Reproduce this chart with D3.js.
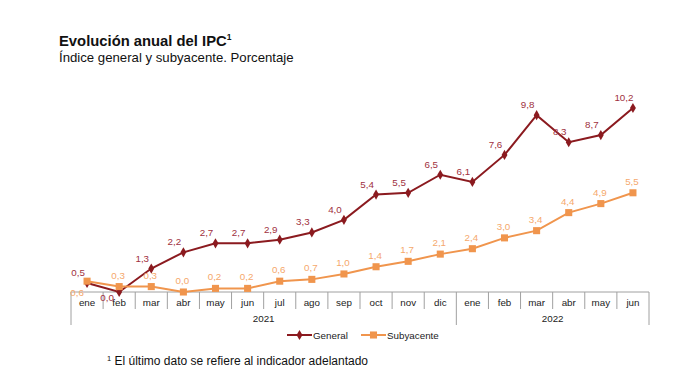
<!DOCTYPE html>
<html>
<head>
<meta charset="utf-8">
<script src="https://d3js.org/d3.v7.min.js"></script>
<style>
  body { margin: 0; background: #fff; }
  svg { font-family: "Liberation Sans", Arial, sans-serif; }
</style>
</head>
<body>
<svg width="699" height="376"></svg>
<script>
const months = ["ene","feb","mar","abr","may","jun","jul","ago","sep","oct","nov","dic",
                "ene","feb","mar","abr","may","jun"];
const years = ["2021","2021","2021","2021","2021","2021","2021","2021","2021","2021","2021","2021",
               "2022","2022","2022","2022","2022","2022"];
const general = [0.5,0.0,1.3,2.2,2.7,2.7,2.9,3.3,4.0,5.4,5.5,6.5,6.1,7.6,9.8,8.3,8.7,10.2];
const subyacente = [0.6,0.3,0.3,0.0,0.2,0.2,0.6,0.7,1.0,1.4,1.7,2.1,2.4,3.0,3.4,4.4,4.9,5.5];

const cGeneral = "#8b1a1f", cGenLabel = "#a03040";
const cSub = "#f0954d", cSubLabel = "#f5a86c";
const axisGrey = "#a0a0a0";

const svg = d3.select("svg");
const fmt = v => v.toFixed(1).replace(".", ",");

const x = d3.scaleBand().domain(d3.range(months.length)).range([71, 649]).padding(0);
const y = d3.scaleLinear().domain([0, 12]).range([292, 292 - 12 * 18.04]);
const cx = i => x(i) + x.bandwidth() / 2;

// title
const title = svg.append("text").attr("x", 59).attr("y", 46)
  .style("font-size", "14.8px").style("font-weight", "bold").attr("fill", "#111");
title.append("tspan").text("Evolución anual del IPC");
title.append("tspan").attr("dy", -6).style("font-size", "8.5px").text("1");
svg.append("text").attr("x", 59).attr("y", 62).style("font-size", "13.2px").attr("fill", "#111")
  .text("Índice general y subyacente. Porcentaje");

// axis
const ax = svg.append("g");
ax.append("line").attr("x1", x.range()[0]).attr("x2", x.range()[1])
  .attr("y1", y(0)).attr("y2", y(0)).attr("stroke", axisGrey);
months.forEach((m, i) => {
  const newYear = i === 0 || years[i] !== years[i - 1];
  ax.append("line").attr("x1", x(i)).attr("x2", x(i)).attr("y1", y(0))
    .attr("y2", newYear ? 325 : 309).attr("stroke", axisGrey);
  ax.append("text").attr("x", cx(i)).attr("y", 306).attr("text-anchor", "middle")
    .style("font-size", "9.8px").attr("fill", "#222").text(m);
});
ax.append("line").attr("x1", x.range()[1]).attr("x2", x.range()[1])
  .attr("y1", y(0)).attr("y2", 325).attr("stroke", axisGrey);
Array.from(new Set(years)).forEach(yr => {
  const idx = years.map((v, i) => v === yr ? i : -1).filter(i => i >= 0);
  const mid = (x(idx[0]) + x(idx[idx.length - 1]) + x.bandwidth()) / 2;
  ax.append("text").attr("x", mid).attr("y", 322).attr("text-anchor", "middle")
    .style("font-size", "9.8px").attr("fill", "#222").text(yr);
});

const line = d3.line().x((d, i) => cx(i)).y(d => y(d));
const diamond = d3.symbol().type(d3.symbolDiamond).size(30);
const square = d3.symbol().type(d3.symbolSquare).size(50);

// general
svg.append("path").datum(general).attr("d", line).attr("fill", "none")
  .attr("stroke", cGeneral).attr("stroke-width", 2);
svg.selectAll(".mg").data(general).join("path").attr("class", "mg")
  .attr("d", diamond).attr("fill", cGeneral)
  .attr("transform", (d, i) => `translate(${cx(i)},${y(d)})`);
svg.selectAll(".lg").data(general).join("text").attr("class", "lg")
  .attr("x", (d, i) => cx(i) - (d === 0 ? 12 : 9))
  .attr("y", d => d === 0 ? y(d) + 9 : y(d) - 7)
  .attr("text-anchor", "middle").style("font-size", "9.8px").attr("fill", cGenLabel)
  .text(fmt);

// subyacente
svg.append("path").datum(subyacente).attr("d", line).attr("fill", "none")
  .attr("stroke", cSub).attr("stroke-width", 2);
svg.selectAll(".ms").data(subyacente).join("path").attr("class", "ms")
  .attr("d", square).attr("fill", cSub)
  .attr("transform", (d, i) => `translate(${cx(i)},${y(d)})`);
svg.selectAll(".ls").data(subyacente).join("text").attr("class", "ls")
  .attr("x", (d, i) => cx(i) - (i === 0 ? 10 : 1))
  .attr("y", (d, i) => i === 0 ? y(d) + 15 : y(d) - 8)
  .attr("text-anchor", "middle").style("font-size", "9.8px").attr("fill", cSubLabel)
  .text(fmt);

// legend
const lg = svg.append("g").attr("transform", "translate(287,335)");
lg.append("line").attr("x1", 0).attr("x2", 25).attr("stroke", cGeneral).attr("stroke-width", 2);
lg.append("path").attr("d", diamond).attr("fill", cGeneral).attr("transform", "translate(12.5,0)");
lg.append("text").attr("x", 26).attr("y", 3.5).style("font-size", "9.8px").attr("fill", "#222").text("General");
lg.append("line").attr("x1", 74).attr("x2", 99).attr("stroke", cSub).attr("stroke-width", 2);
lg.append("path").attr("d", square).attr("fill", cSub).attr("transform", "translate(86.5,0)");
lg.append("text").attr("x", 100).attr("y", 3.5).style("font-size", "9.8px").attr("fill", "#222").text("Subyacente");

// footnote
const fn = svg.append("text").attr("x", 107).attr("y", 365).style("font-size", "12px").attr("fill", "#111");
fn.append("tspan").attr("dy", -4).style("font-size", "7.5px").text("1");
fn.append("tspan").attr("dy", 4).text(" El último dato se refiere al indicador adelantado");
</script>
</body>
</html>
